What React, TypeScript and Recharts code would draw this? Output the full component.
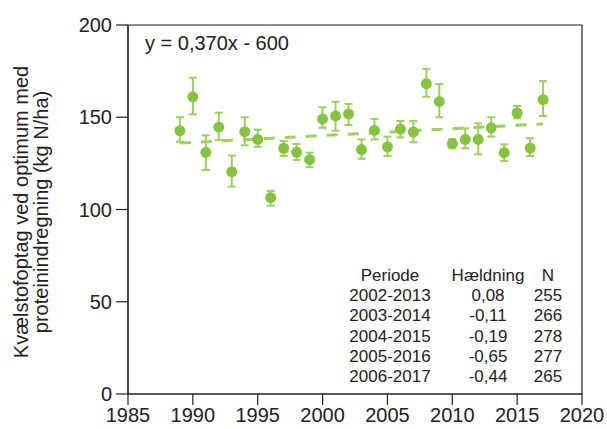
import React from 'react';
import { ScatterChart, Scatter, XAxis, YAxis, ErrorBar, ReferenceArea } from 'recharts';

const years = [1989, 1990, 1991, 1992, 1993, 1994, 1995, 1996, 1997, 1998, 1999, 2000, 2001, 2002, 2003,
  2004, 2005, 2006, 2007, 2008, 2009, 2010, 2011, 2012, 2013, 2014, 2015, 2016, 2017];
const uptake = [142.7, 161.1, 131.0, 144.6, 120.5, 142.2, 138.0, 106.4, 133.2, 131.0, 127.0, 149.1, 150.7, 151.8, 132.5,
  142.9, 134.0, 143.6, 142.0, 168.2, 158.6, 135.7, 138.0, 138.0, 144.3, 130.8, 152.3, 133.3, 159.5];
const uptakeLow = [136.7, 151.6, 121.4, 137.7, 112.4, 134.8, 134.0, 102.1, 129.0, 126.8, 122.9, 144.3, 142.7, 145.8, 127.5,
  138.0, 129.0, 139.1, 136.4, 161.1, 150.0, 133.2, 133.2, 129.9, 139.5, 126.3, 149.4, 129.0, 150.7];
const uptakeHigh = [150.0, 171.4, 140.2, 152.5, 129.2, 150.0, 143.3, 110.0, 137.1, 135.5, 130.8, 155.4, 158.4, 157.2, 138.0,
  149.1, 139.5, 148.0, 148.0, 176.2, 168.0, 138.2, 144.0, 146.7, 150.0, 135.3, 156.1, 138.6, 169.6];

const trendYears = [1989, 2017];
const trendValues = [136.0, 146.4];

const xTicks = [1985, 1990, 1995, 2000, 2005, 2010, 2015, 2020];
const yTicks = [0, 50, 100, 150, 200];

const tableHeader = ['Periode', 'Hældning', 'N'];
const periods = ['2002-2013', '2003-2014', '2004-2015', '2005-2016', '2006-2017'];
const slopes = ['0,08', '-0,11', '-0,19', '-0,65', '-0,44'];
const counts = ['255', '266', '278', '277', '265'];

const points = years.map((year, i) => ({
  year,
  value: uptake[i],
  err: [uptake[i] - uptakeLow[i], uptakeHigh[i] - uptake[i]],
}));
const trend = trendYears.map((year, i) => ({ year, value: trendValues[i] }));

const green = '#86c440';
const font = 'Liberation Sans, Arial, sans-serif';
const ink = '#222';

const Dot = (props: any) => <circle cx={props.cx} cy={props.cy} r={5.5} fill={green} />;

const App = () => {
  const colX = [390, 488, 548];
  const rowY = [281, 301, 321, 342, 362, 382];
  return (
    <div style={{ position: 'absolute', left: 0, top: 0, width: 607, height: 429, background: '#fff' }}>
      <ScatterChart width={607} height={429} margin={{ top: 25, right: 25, left: 0, bottom: 0 }}
        style={{ fontFamily: font, overflow: 'visible' }}>
        <ReferenceArea x1={1985} x2={2020} y1={0} y2={200} fill="none" stroke={ink} strokeWidth={1.2} />
        <XAxis type="number" dataKey="year" domain={[1985, 2020]} ticks={xTicks} height={35}
          tickSize={11} tickMargin={3} stroke={ink} strokeWidth={1.2}
          tick={{ fill: ink, fontSize: 20, fontFamily: font }} />
        <YAxis type="number" dataKey="value" domain={[0, 200]} ticks={yTicks} width={128}
          tickSize={12} tickMargin={4} stroke={ink} strokeWidth={1.2}
          tick={{ fill: ink, fontSize: 20, fontFamily: font }} />
        <Scatter data={trend} isAnimationActive={false} shape={() => <g />}
          line={{ stroke: '#9ed25f', strokeWidth: 3, strokeDasharray: '11 10' }} lineType="joint" />
        <Scatter data={points} isAnimationActive={false} shape={Dot}>
          <ErrorBar dataKey="err" direction="y" width={4} stroke="#9ccf60" strokeWidth={2} />
        </Scatter>
        <text x={145} y={50} fontSize={20} fontFamily={font} fill={ink}>y = 0,370x - 600</text>
        <text x={28} y={212} transform="rotate(-90 28 212)" textAnchor="middle" fontSize={20}
          fontFamily={font} fill={ink}>Kvælstofoptag ved optimum med</text>
        <text x={48} y={212} transform="rotate(-90 48 212)" textAnchor="middle" fontSize={20}
          fontFamily={font} fill={ink}>proteinindregning (kg N/ha)</text>
        {tableHeader.map((h, j) => (
          <text key={h} x={colX[j]} y={rowY[0]} textAnchor="middle" fontSize={17} fontFamily={font} fill={ink}>{h}</text>
        ))}
        {periods.map((p, i) => (
          <g key={p}>
            <text x={colX[0]} y={rowY[i + 1]} textAnchor="middle" fontSize={17} fontFamily={font} fill={ink}>{p}</text>
            <text x={colX[1]} y={rowY[i + 1]} textAnchor="middle" fontSize={17} fontFamily={font} fill={ink}>{slopes[i]}</text>
            <text x={colX[2]} y={rowY[i + 1]} textAnchor="middle" fontSize={17} fontFamily={font} fill={ink}>{counts[i]}</text>
          </g>
        ))}
      </ScatterChart>
    </div>
  );
};

export default App;
